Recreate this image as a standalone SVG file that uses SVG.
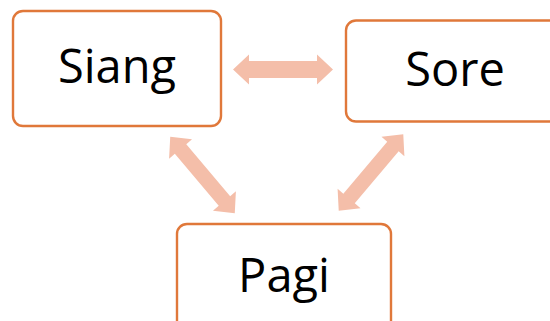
<svg xmlns="http://www.w3.org/2000/svg" width="550" height="321" viewBox="0 0 550 321">
<style>
.box{fill:#fff;stroke:#E0783A;stroke-width:2.4}
.lbl{font-family:"Open Sans","Liberation Sans",sans-serif;font-size:47px;fill:#000;text-anchor:middle}
.arr{fill:#F4BEA9}
</style>
<defs>
<polygon id="darrow" points="-50,0 -34,-15 -34,-7.5 34,-7.5 34,-15 50,0 34,15 34,7.5 -34,7.5 -34,15"/>
</defs>
<rect width="550" height="321" fill="#fff"/>
<g id="connectors">
<polygon class="arr" points="233,69.5 249,54.5 249,61 317,61 317,54.5 333,69.5 317,84.5 317,78 249,78 249,84.5"/>
<use href="#darrow" class="arr" transform="translate(202.5,175) rotate(49.8)"/>
<use href="#darrow" class="arr" transform="translate(371,172.5) rotate(-49.8)"/>
</g>
<g id="siang">
<rect class="box" x="13" y="11" width="208" height="115" rx="10"/>
<text class="lbl" x="117" y="83">Siang</text>
</g>
<g id="sore">
<rect class="box" x="346" y="20.5" width="215" height="101" rx="10"/>
<text class="lbl" x="455" y="86">Sore</text>
</g>
<g id="pagi">
<rect class="box" x="177" y="224" width="214" height="110" rx="10"/>
<text class="lbl" x="284" y="292">Pagi</text>
</g>
</svg>
